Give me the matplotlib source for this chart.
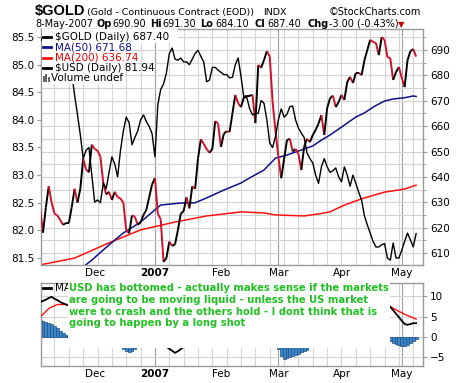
import numpy as np
import pandas as pd
import matplotlib
matplotlib.use('Agg')
import matplotlib.pyplot as plt
from matplotlib.collections import LineCollection
from matplotlib.patches import Rectangle
from matplotlib.lines import Line2D
from matplotlib.transforms import Bbox, TransformedBbox

W, H = 460, 383

# every weekday is a bar on this chart
days = pd.bdate_range('2006-11-06', '2007-05-08')

# $GOLD daily close (right scale)
gold = [627.6, 618, 628, 636.3, 629.8, 625.5, 624.8, 623, 621.1, 621.8,
        621.8, 628, 635.3, 629.8, 635.3, 647.2, 642.9, 641.8, 652.7, 651,
        650.3, 648, 637.5, 633.1, 634.1, 630.9, 634.1, 632, 631.5, 629.8,
        618.9, 617.8, 624.8, 624.3, 621.1, 622.1, 625, 627, 632, 637,
        639.6, 625.5, 623.3, 606.5, 608, 614.5, 612.8, 613.4, 619, 625.5,
        626.5, 632, 627.6, 636.3, 635.3, 647.2, 654.8, 653, 651, 649.5,
        651, 662, 661, 651.8, 657, 658, 657.7, 665, 672.3, 669,
        667.5, 671.5, 672, 672, 672.3, 661.2, 684.1, 683, 686, 689.6,
        687.4, 669.6, 658, 648, 639.5, 647, 654.5, 655, 650, 651,
        649, 642.7, 652, 655, 653.7, 656.5, 658.5, 661, 664.4, 656.5,
        667.1, 671, 672, 667.5, 669.5, 672.3, 670.3, 677.4, 679.4, 677,
        681, 681, 680.1, 686, 690, 694, 693.2, 692.8, 688, 695.1,
        694, 687.2, 686.8, 678.2, 681.3, 683.3, 679, 675.4, 686, 689.5,
        690.4, 687.4]

# $USD daily close (left scale)
usd = [85.5, 85.4, 85.5, 85.35, 85.25, 85.3, 85.15, 85.2, 85.05, 85.1,
       85.0, 84.85, 84.45, 84.1, 83.73, 83.3, 83.45, 83.5, 83.0, 82.51,
       82.55, 82.5, 82.86, 82.75, 83.05, 83.33, 83.2, 82.97, 83.45, 83.8,
       84.05, 83.95, 83.55, 83.68, 83.8, 84.0, 84.09, 83.97, 83.88, 83.75,
       83.33, 84.27, 84.55, 84.65, 84.85, 85.2, 85.3, 85.1, 85.08, 85.12,
       85.05, 85.05, 85.0, 85.1, 85.2, 85.26, 85.15, 85.05, 84.69, 84.72,
       84.95, 84.95, 84.9, 84.86, 84.82, 84.82, 84.76, 84.77, 85.0, 85.12,
       84.78, 84.4, 84.41, 84.2, 84.09, 84.11, 84.12, 84.35, 84.3, 84.0,
       83.58, 83.5, 83.7, 84.0, 84.2, 84.05, 84.1, 84.24, 84.25, 84.0,
       83.85, 83.76, 83.68, 83.4, 83.3, 83.22, 83.0, 82.85, 83.15, 83.3,
       83.15, 83.05, 83.08, 83.13, 82.97, 82.88, 83.15, 83.0, 82.8, 83.0,
       82.85, 82.69, 82.55, 82.26, 82.1, 81.95, 81.8, 81.7, 81.7, 81.74,
       81.76, 81.5, 81.46, 81.77, 81.5, 81.5, 81.64, 81.8, 81.95, 81.83,
       81.7, 81.94]

# moving averages of $GOLD
ma200_idx = [0, 12, 24, 35, 47, 58, 70, 78, 82, 92, 97, 101, 106, 113, 120, 127, 131]
ma200 = [605.3, 608, 614, 619.1, 622.2, 624.6, 626.2, 625.8, 625.0, 624.6,
         625.4, 626.2, 628.9, 631.7, 634.0, 635.2, 636.74]
ma50_idx = [15, 18, 24, 29, 35, 40, 42, 49, 54, 58, 64, 70, 73, 78, 82, 86, 91,
            95, 98, 101, 106, 110, 113, 116, 120, 123, 127, 130, 131]
ma50 = [604.5, 607.2, 613.2, 617.9, 622.2, 627.0, 628.9, 629.7, 629.8, 631.7,
        634.8, 637.6, 639.6, 642.7, 647.4, 648.6, 650.6, 652.2, 654.5, 656.5,
        660.4, 663.6, 665.2, 667.5, 669.9, 670.7, 671.2, 671.9, 671.68]

# lower indicator, only the pieces the note leaves visible
macd_a_idx = list(range(0, 11))
macd_a = [8.6, 8.9, 9.2, 9.6, 9.9, 9.4, 9.1, 8.6, 8.3, 8.0, 7.8]
sig_a = [4.9, 5.6, 6.3, 7.0, 7.4, 7.7, 8.0, 8.0, 8.0, 8.0, 7.9]
macd_b_idx = list(range(44, 51))
macd_b = [-2.4, -2.9, -3.4, -3.9, -3.5, -3.0, -2.4]
macd_c_idx = list(range(121, 132))
macd_c = [7.8, 7.4, 6.6, 5.7, 4.9, 4.0, 3.2, 3.0, 3.2, 3.4, 3.4]
sig_c = [7.8, 7.5, 7.1, 6.7, 6.3, 6.0, 5.6, 5.3, 5.0, 4.7, 4.4]
hist_idx = list(range(0, 11)) + list(range(29, 34)) + list(range(83, 94)) + list(range(122, 132))
hist = [4.3, 4.0, 3.7, 3.5, 3.2, 2.7, 2.1, 1.5, 1.0, 0.6, 0.3,
        -2.9, -3.4, -3.7, -3.5, -3.0,
        -3.0, -4.8, -5.4, -5.2, -5.0, -4.7, -4.4, -4.1, -3.8, -3.5, -3.1,
        -1.1, -1.4, -1.7, -1.9, -2.1, -2.2, -2.0, -1.5, -1.0, -0.5]

note = ("USD has bottomed - actually makes sense if the markets\n"
        "are going to be moving liquid - unless the US market\n"
        "were to crash and the others hold - I dont think that is\n"
        "going to happen by a long shot")

x = np.arange(len(days))
month_idx = [i for i in range(1, len(days)) if days[i].month != days[i - 1].month]
month_lbl = ['2007' if days[i].month == 1 else days[i].strftime('%b') for i in month_idx]
week_idx = [i for i in range(len(days)) if days[i].weekday() == 0]
dark_idx = [i for i in month_idx if days[i].month in (1, 3, 5)]

plt.rcParams['font.family'] = ['DejaVu Sans']
GRID = '#d4d4d4'
MGRID = '#a0a0a0'
SPINE = '#9a9a9a'


def fx(px):
    return px / W


def fy(py):
    return 1 - py / H


def style(a):
    for s in a.spines.values():
        s.set_color(SPINE)
        s.set_linewidth(1.0)
    a.set_xlim(0.3, 133.4)
    for i in week_idx:
        a.axvline(i, color=GRID, lw=0.8, zorder=0)
    for i in dark_idx:
        a.axvline(i, color=MGRID, lw=0.8, zorder=0)
    a.set_xticks(month_idx)
    a.set_xticklabels(month_lbl, fontsize=7.5)
    for t in a.get_xticklabels():
        if t.get_text() == '2007':
            t.set_fontweight('bold')
    a.tick_params(axis='x', length=0, pad=2)


fig = plt.figure(figsize=(W / 100, H / 100), dpi=100)

# main panel: gold on the right scale, USD on the left one
ax = fig.add_axes([fx(41), fy(265), 382 / W, 236 / H])
style(ax)
ax.set_ylim(605.27, 698.28)
for v in np.arange(610, 696, 5):
    ax.axhline(v, color=GRID, lw=0.8, zorder=0)

pts = np.column_stack([x, gold])
segs = np.stack([pts[:-1], pts[1:]], axis=1)
cols = ['#000000' if b >= a else '#d0102a' for a, b in zip(gold[:-1], gold[1:])]
ax.add_collection(LineCollection(segs, colors=cols, linewidths=1.4, zorder=3))
ax.plot(ma200_idx, ma200, color='#ff1010', lw=1.1, zorder=2)
ax.plot(ma50_idx, ma50, color='#10108a', lw=1.1, zorder=2)

axu = ax.twinx()
axu.set_ylim(81.373, 85.645)
axu.plot(x, usd, color='black', lw=1.0, zorder=2)
for s in axu.spines.values():
    s.set_visible(False)

ax.yaxis.tick_right()
ax.set_yticks(np.arange(610, 691, 10))
ax.set_yticks(np.arange(610, 696, 5), minor=True)
ax.tick_params(axis='y', which='both', labelsize=7.5, length=3, color=SPINE, pad=2)
ax.tick_params(axis='y', which='minor', length=2)
axu.yaxis.tick_left()
axu.set_yticks(np.arange(81.5, 85.6, 0.5))
axu.set_yticklabels([f'{v:.1f}' for v in np.arange(81.5, 85.6, 0.5)])
axu.tick_params(axis='y', labelsize=7.5, length=3, color=SPINE, pad=2)

# lower panel
ax2 = fig.add_axes([fx(41), fy(366), 382 / W, 83 / H])
style(ax2)
ax2.set_ylim(-7.14, 13.3)
ax2.yaxis.tick_right()
ax2.set_yticks([-5, 0, 5, 10])
ax2.tick_params(axis='y', labelsize=7.5, length=3, color=SPINE, pad=2)
for v in [-5, 0, 5, 10]:
    ax2.axhline(v, color=GRID, lw=0.8, zorder=0)
ax2.bar(hist_idx, hist, width=1.0, color='#3a86c6', edgecolor='#1d4f86', lw=0.5, zorder=2)
ax2.plot(macd_a_idx, sig_a, color='#ff1010', lw=1.0, zorder=3)
ax2.plot(macd_a_idx, macd_a, color='black', lw=1.3, zorder=3)
ax2.plot(macd_b_idx, macd_b, color='black', lw=1.3, zorder=3)
ax2.plot(macd_c_idx, sig_c, color='#ff1010', lw=1.0, zorder=3)
ax2.plot(macd_c_idx, macd_c, color='black', lw=1.3, zorder=3)

# header
fig.text(fx(35), fy(15), '$GOLD', family='Liberation Sans', fontweight='bold',
         fontsize=10.5, va='baseline')
fig.text(fx(87), fy(15), '(Gold - Continuous Contract (EOD))', fontsize=6.8, va='baseline')
fig.text(fx(263), fy(15), 'INDX', fontsize=6.8, va='baseline')
fig.text(fx(421), fy(15), '©StockCharts.com', fontsize=7, va='baseline', ha='right')
line2 = [(35, '8-May-2007', 'normal'), (97, 'Op', 'bold'), (112, '690.90', 'normal'),
         (150, 'Hi', 'bold'), (162, '691.30', 'normal'), (200, 'Lo', 'bold'),
         (215, '684.10', 'normal'), (255, 'Cl', 'bold'), (267, '687.40', 'normal'),
         (307, 'Chg', 'bold'), (329, '-3.00 (-0.43%)', 'normal')]
for px, s, w in line2:
    fig.text(fx(px), fy(27), s, fontsize=7, fontweight=w, va='baseline')
fig.text(fx(398), fy(27), '▼', fontsize=6, color='#cc0000', va='baseline')

# legend of main panel
fig.add_artist(Rectangle((fx(41.5), fy(84)), fx(125) - fx(41.5), fy(29.5) - fy(84),
                         transform=fig.transFigure, fc='white', ec='none', zorder=2.5))
fig.add_artist(Rectangle((fx(41.5), fy(43)), fx(178) - fx(41.5), fy(29.5) - fy(43),
                         transform=fig.transFigure, fc='white', ec='none', zorder=2.5))
leg = [(f'$GOLD (Daily) {gold[-1]:.2f}', 'black', 'black'),
       ('MA(50) 671.68', '#10108a', '#10108a'),
       ('MA(200) 636.74', '#ff1010', '#e00000'),
       (f'$USD (Daily) {usd[-1]:.2f}', 'black', 'black')]
for k, (s, lc, tc) in enumerate(leg):
    yy = 37 + 10.3 * k
    fig.add_artist(Line2D([fx(43), fx(51)], [fy(yy), fy(yy)], color=lc, lw=2,
                          transform=fig.transFigure, zorder=3))
    fig.text(fx(55), fy(yy), s, color=tc, fontsize=7.5, va='center')
for bx, bh in [(43, 6), (45.5, 8), (48, 5)]:
    fig.add_artist(Rectangle((fx(bx), fy(82)), 2 / W, bh / H, transform=fig.transFigure,
                             fc='#666666', ec='none', zorder=3))
fig.text(fx(51), fy(78.2), 'Volume undef', fontsize=7.5, va='center')

# lower legend, cut off where the note begins
fig.add_artist(Line2D([fx(43), fx(51)], [fy(288), fy(288)], color='black', lw=2,
                      transform=fig.transFigure, zorder=3))
lt = fig.text(fx(55), fy(288), 'MACD(12,26,9)', fontsize=7.5, va='center')
lt.set_clip_box(TransformedBbox(Bbox([[fx(41), fy(300)], [fx(67.5), fy(280)]]),
                                fig.transFigure))
lt.set_clip_on(True)

# note box
fig.add_artist(Rectangle((fx(67.5), fy(348)), fx(389.5) - fx(67.5), fy(281) - fy(348),
                         transform=fig.transFigure, fc='white', ec='none', zorder=4))
fig.text(fx(69), fy(283), note, color='#22c022', fontsize=7.2, fontweight='bold',
         va='top', linespacing=1.22, zorder=5)

fig.savefig('out.png', dpi=100)
